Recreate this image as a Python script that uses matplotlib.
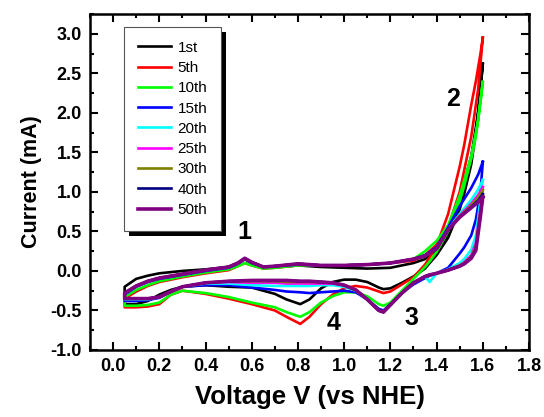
import matplotlib
matplotlib.use("Agg")
import matplotlib.pyplot as plt
from matplotlib.patches import Rectangle
from matplotlib.ticker import MultipleLocator

plt.rcParams["font.family"] = ["Liberation Sans", "DejaVu Sans"]

# voltage grids (V vs NHE): forward scan 0.05 -> 1.6, reverse scan 1.6 -> 0.05
v_fwd = [0.05, 0.10, 0.15, 0.20, 0.30, 0.40, 0.50, 0.54, 0.57, 0.60, 0.65, 0.70,
         0.80, 0.90, 1.00, 1.10, 1.20, 1.30, 1.35, 1.40, 1.45, 1.50, 1.55, 1.58, 1.60]
v_rev = [1.60, 1.59, 1.57, 1.55, 1.52, 1.50, 1.45, 1.40, 1.37, 1.35, 1.30, 1.25,
         1.20, 1.17, 1.15, 1.10, 1.05, 1.00, 0.95, 0.90, 0.85, 0.81, 0.75, 0.70,
         0.60, 0.50, 0.40, 0.30, 0.25, 0.20, 0.15, 0.10, 0.05]

# current (mA)
i1_fwd = [-0.20, -0.10, -0.06, -0.03, 0.00, 0.02, 0.05, 0.10, 0.15, 0.10, 0.05, 0.05,
          0.07, 0.05, 0.04, 0.03, 0.04, 0.10, 0.15, 0.26, 0.47, 0.92, 1.45, 2.00, 2.62]
i1_rev = [2.62, 2.30, 1.75, 1.35, 0.98, 0.78, 0.42, 0.20, 0.10, 0.03, -0.07, -0.15,
          -0.22, -0.23, -0.21, -0.14, -0.11, -0.11, -0.14, -0.22, -0.36, -0.42, -0.36, -0.29,
          -0.21, -0.20, -0.18, -0.20, -0.24, -0.30, -0.38, -0.42, -0.42]

i5_fwd = [-0.35, -0.26, -0.19, -0.14, -0.08, -0.03, 0.01, 0.06, 0.10, 0.07, 0.03, 0.04,
          0.07, 0.07, 0.07, 0.08, 0.10, 0.13, 0.20, 0.33, 0.55, 1.00, 1.70, 2.30, 2.95]
i5_rev = [2.95, 2.75, 2.40, 2.10, 1.60, 1.32, 0.72, 0.32, 0.17, 0.08, -0.08, -0.17,
          -0.26, -0.28, -0.26, -0.21, -0.19, -0.22, -0.30, -0.42, -0.58, -0.67, -0.58, -0.50,
          -0.42, -0.35, -0.29, -0.25, -0.30, -0.42, -0.45, -0.46, -0.46]

i10_fwd = [-0.33, -0.24, -0.18, -0.13, -0.07, -0.02, 0.02, 0.06, 0.10, 0.07, 0.03, 0.04,
           0.07, 0.07, 0.07, 0.08, 0.10, 0.15, 0.25, 0.38, 0.58, 0.95, 1.45, 1.90, 2.39]
i10_rev = [2.39, 2.15, 1.70, 1.42, 1.08, 0.88, 0.50, 0.24, 0.12, 0.05, -0.10, -0.25,
           -0.40, -0.44, -0.42, -0.32, -0.27, -0.27, -0.32, -0.40, -0.52, -0.58, -0.52, -0.46,
           -0.40, -0.33, -0.28, -0.25, -0.30, -0.40, -0.43, -0.44, -0.44]

i15_fwd = [-0.30, -0.20, -0.14, -0.10, -0.05, 0.00, 0.04, 0.09, 0.15, 0.10, 0.05, 0.06,
           0.08, 0.07, 0.07, 0.08, 0.10, 0.15, 0.20, 0.30, 0.55, 0.82, 1.05, 1.22, 1.38]
i15_rev = [1.38, 1.00, 0.65, 0.45, 0.30, 0.22, 0.04, -0.03, -0.06, -0.09, -0.17, -0.28,
           -0.42, -0.50, -0.48, -0.36, -0.27, -0.25, -0.26, -0.27, -0.28, -0.27, -0.26, -0.24,
           -0.21, -0.18, -0.18, -0.20, -0.26, -0.34, -0.37, -0.38, -0.38]

i20_fwd = [-0.29, -0.19, -0.13, -0.09, -0.04, 0.01, 0.05, 0.10, 0.16, 0.11, 0.05, 0.06,
           0.09, 0.07, 0.07, 0.08, 0.10, 0.15, 0.19, 0.28, 0.52, 0.72, 0.90, 1.03, 1.15]
i20_rev = [1.15, 0.90, 0.45, 0.27, 0.15, 0.10, 0.02, -0.03, -0.14, -0.07, -0.15, -0.28,
           -0.43, -0.52, -0.50, -0.36, -0.25, -0.20, -0.18, -0.18, -0.19, -0.19, -0.19, -0.19,
           -0.18, -0.16, -0.16, -0.20, -0.26, -0.33, -0.36, -0.36, -0.36]

i25_fwd = [-0.28, -0.19, -0.13, -0.09, -0.04, 0.01, 0.05, 0.10, 0.16, 0.11, 0.05, 0.06,
           0.09, 0.07, 0.07, 0.08, 0.10, 0.15, 0.19, 0.28, 0.52, 0.70, 0.85, 0.96, 1.06]
i25_rev = [1.06, 0.80, 0.35, 0.20, 0.11, 0.07, 0.01, -0.03, -0.05, -0.07, -0.15, -0.28,
           -0.43, -0.52, -0.50, -0.36, -0.24, -0.18, -0.16, -0.16, -0.16, -0.16, -0.16, -0.15,
           -0.15, -0.14, -0.15, -0.20, -0.26, -0.33, -0.35, -0.35, -0.35]

i30_fwd = [-0.28, -0.19, -0.13, -0.09, -0.04, 0.01, 0.05, 0.10, 0.16, 0.11, 0.05, 0.06,
           0.09, 0.07, 0.07, 0.08, 0.10, 0.15, 0.19, 0.28, 0.52, 0.69, 0.83, 0.93, 1.02]
i30_rev = [1.02, 0.76, 0.31, 0.18, 0.10, 0.07, 0.01, -0.03, -0.05, -0.07, -0.15, -0.28,
           -0.43, -0.52, -0.50, -0.36, -0.24, -0.18, -0.15, -0.14, -0.14, -0.14, -0.14, -0.13,
           -0.13, -0.13, -0.15, -0.20, -0.26, -0.33, -0.35, -0.35, -0.35]

i40_fwd = [-0.28, -0.19, -0.13, -0.09, -0.04, 0.01, 0.05, 0.10, 0.16, 0.11, 0.05, 0.06,
           0.09, 0.07, 0.07, 0.08, 0.10, 0.15, 0.19, 0.28, 0.52, 0.68, 0.81, 0.89, 0.97]
i40_rev = [0.97, 0.72, 0.28, 0.17, 0.09, 0.06, 0.01, -0.03, -0.05, -0.07, -0.15, -0.28,
           -0.43, -0.52, -0.50, -0.36, -0.24, -0.18, -0.15, -0.14, -0.13, -0.13, -0.12, -0.12,
           -0.12, -0.13, -0.15, -0.20, -0.26, -0.33, -0.35, -0.35, -0.35]

i50_fwd = [-0.28, -0.19, -0.13, -0.09, -0.04, 0.01, 0.05, 0.10, 0.16, 0.11, 0.05, 0.06,
           0.09, 0.07, 0.07, 0.08, 0.10, 0.15, 0.19, 0.28, 0.52, 0.68, 0.80, 0.87, 0.935]
i50_rev = [0.935, 0.70, 0.26, 0.16, 0.09, 0.06, 0.01, -0.03, -0.05, -0.07, -0.15, -0.28,
           -0.43, -0.52, -0.50, -0.36, -0.24, -0.18, -0.15, -0.14, -0.13, -0.13, -0.12, -0.12,
           -0.12, -0.13, -0.15, -0.20, -0.26, -0.33, -0.35, -0.35, -0.35]

labels = ["1st", "5th", "10th", "15th", "20th", "25th", "30th", "40th", "50th"]
colors = ["#000000", "#FF0000", "#00FF00", "#0000FF", "#00FFFF",
          "#FF00FF", "#808000", "#000080", "#800080"]
cycles = [(i1_fwd, i1_rev), (i5_fwd, i5_rev), (i10_fwd, i10_rev), (i15_fwd, i15_rev),
          (i20_fwd, i20_rev), (i25_fwd, i25_rev), (i30_fwd, i30_rev), (i40_fwd, i40_rev),
          (i50_fwd, i50_rev)]

fig = plt.figure(figsize=(5.44, 4.17), dpi=100)
ax = fig.add_axes([90 / 544, 1 - 350 / 417, (529 - 90) / 544, (350 - 14) / 417])

for (i_fwd, i_rev), lab, col in zip(cycles, labels, colors):
    lw = 2.6 if lab == "50th" else 1.9
    ax.plot(v_rev + v_fwd, i_rev + i_fwd, color=col, lw=lw, label=lab,
            solid_joinstyle="round")

ax.set_xlim(-0.1, 1.8)
ax.set_ylim(-1.0, 3.25)
ax.xaxis.set_major_locator(MultipleLocator(0.2))
ax.xaxis.set_minor_locator(MultipleLocator(0.1))
ax.yaxis.set_major_locator(MultipleLocator(0.5))
ax.yaxis.set_minor_locator(MultipleLocator(0.25))
ax.tick_params(which="both", direction="in", top=True, right=True, width=1.5)
ax.tick_params(which="major", length=6, labelsize=13, pad=6)
ax.tick_params(which="minor", length=3)
ax.set_xticks([0.0, 0.2, 0.4, 0.6, 0.8, 1.0, 1.2, 1.4, 1.6, 1.8])
ax.set_xticklabels([f"{t:.1f}" for t in ax.get_xticks()])
ax.set_yticklabels([f"{t:.1f}" for t in ax.get_yticks()])
for lbl in ax.get_xticklabels() + ax.get_yticklabels():
    lbl.set_fontweight("bold")
for sp in ax.spines.values():
    sp.set_linewidth(1.8)

ax.set_xlabel("Voltage V (vs NHE)", fontsize=18.5, fontweight="bold", labelpad=7)
ax.set_ylabel("Current (mA)", fontsize=15.5, fontweight="bold", labelpad=6)

# peak labels
for txt, vx, vy in [("1", 0.567, 0.49), ("2", 1.47, 2.18), ("3", 1.29, -0.60), ("4", 0.955, -0.66)]:
    ax.text(vx, vy, txt, fontsize=18, fontweight="bold", ha="center", va="center")

leg = ax.legend(loc="upper left", bbox_to_anchor=((124 - 90) / 439, (350 - 27) / 336),
                borderaxespad=0, fontsize=11, frameon=True, fancybox=False,
                handlelength=2.2, handletextpad=0.4, labelspacing=0.41,
                borderpad=0.9, edgecolor="#555555", framealpha=1)
leg.get_frame().set_linewidth(0.8)
leg.set_zorder(6)

# solid black drop shadow behind the legend box
fig.canvas.draw()
bb = leg.get_window_extent()
shadow = Rectangle((bb.x0 + 5, bb.y0 - 5), bb.width, bb.height, transform=None,
                   facecolor="black", edgecolor="none", zorder=5, clip_on=False)
ax.add_artist(shadow)

fig.savefig("out.png", dpi=100)
